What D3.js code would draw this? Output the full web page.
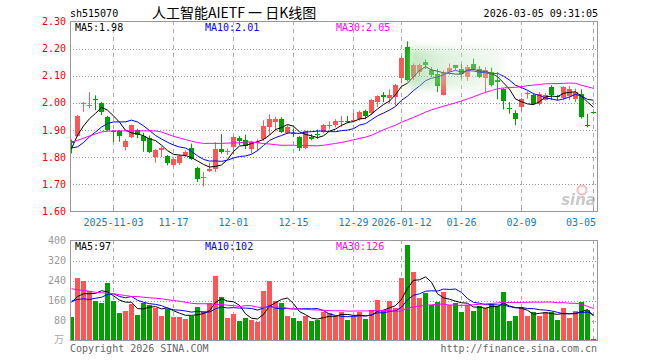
<!DOCTYPE html>
<html><head><meta charset="utf-8">
<script src="https://cdn.jsdelivr.net/npm/d3@7/dist/d3.min.js"></script>
<style>body{margin:0;background:#fff}svg{display:block}</style>
</head><body>
<svg id="c" width="660" height="360"></svg>
<script>
// ---------- DATA ----------
const dates = [
 "2025-10-23","2025-10-24","2025-10-27","2025-10-28","2025-10-29","2025-10-30","2025-10-31",
 "2025-11-03","2025-11-04","2025-11-05","2025-11-06","2025-11-07","2025-11-10","2025-11-11","2025-11-12","2025-11-13","2025-11-14",
 "2025-11-17","2025-11-18","2025-11-19","2025-11-20","2025-11-21","2025-11-24","2025-11-25","2025-11-26","2025-11-27","2025-11-28",
 "2025-12-01","2025-12-02","2025-12-03","2025-12-04","2025-12-05","2025-12-08","2025-12-09","2025-12-10","2025-12-11","2025-12-12",
 "2025-12-15","2025-12-16","2025-12-17","2025-12-18","2025-12-19","2025-12-22","2025-12-23","2025-12-24","2025-12-25","2025-12-26",
 "2025-12-29","2025-12-30","2025-12-31",
 "2026-01-05","2026-01-06","2026-01-07","2026-01-08","2026-01-09","2026-01-12","2026-01-13","2026-01-14","2026-01-15","2026-01-16",
 "2026-01-19","2026-01-20","2026-01-21","2026-01-22","2026-01-23","2026-01-26","2026-01-27","2026-01-28","2026-01-29","2026-01-30",
 "2026-02-02","2026-02-03","2026-02-04","2026-02-05","2026-02-06","2026-02-09","2026-02-10","2026-02-11","2026-02-12","2026-02-13",
 "2026-02-24","2026-02-25","2026-02-26","2026-02-27","2026-03-02","2026-03-03","2026-03-04","2026-03-05"];

const openP = [1.86,1.88,1.995,1.99,2.013,2.00,1.947,1.897,1.896,1.835,
 1.874,1.90,1.88,1.87,1.80,1.826,1.805,1.772,1.782,1.808,
 1.835,1.762,1.725,1.752,1.758,1.83,1.818,1.838,1.87,1.862,
 1.83,1.852,1.866,1.912,1.932,1.942,1.891,1.888,1.876,1.834,
 1.874,1.884,1.891,1.915,1.922,1.93,1.934,1.932,1.942,1.969,
 1.961,2.003,2.028,2.018,2.02,2.09,2.205,2.095,2.115,2.15,
 2.123,2.105,2.03,2.115,2.138,2.125,2.095,2.144,2.126,2.092,
 2.114,2.083,2.053,1.983,1.963,1.985,2.032,2.03,1.998,2.013,
 2.058,2.027,2.016,2.028,2.016,2.034,1.92,1.965];
const closeP = [1.853,1.952,2.0,1.994,2.008,1.965,1.90,1.894,1.878,1.858,
 1.918,1.882,1.86,1.82,1.826,1.834,1.78,1.793,1.806,1.82,
 1.793,1.72,1.728,1.758,1.832,1.818,1.822,1.875,1.86,1.84,
 1.855,1.857,1.915,1.94,1.942,1.893,1.912,1.884,1.835,1.896,
 1.867,1.879,1.918,1.92,1.935,1.934,1.931,1.937,1.967,1.949,
 2.01,2.025,2.02,2.03,2.065,2.165,2.083,2.14,2.14,2.14,
 2.105,2.06,2.11,2.13,2.127,2.105,2.132,2.126,2.096,2.123,
 2.065,2.075,2.01,1.98,1.942,2.015,2.035,1.997,2.034,2.03,
 2.03,2.025,2.058,2.052,2.04,1.948,1.918,1.963];
const highP = [1.865,1.955,2.003,2.04,2.028,2.003,1.952,1.90,1.90,1.866,
 1.92,1.905,1.89,1.88,1.83,1.84,1.808,1.797,1.81,1.825,
 1.85,1.765,1.745,1.78,1.855,1.885,1.832,1.88,1.878,1.883,
 1.86,1.866,1.936,1.958,1.948,1.947,1.918,1.905,1.878,1.898,
 1.885,1.902,1.922,1.932,1.94,1.952,1.952,1.964,1.972,1.975,
 2.015,2.028,2.04,2.05,2.07,2.172,2.227,2.145,2.145,2.16,
 2.132,2.126,2.12,2.145,2.14,2.144,2.14,2.163,2.135,2.132,
 2.13,2.114,2.055,2.003,1.973,2.018,2.043,2.035,2.04,2.036,
 2.065,2.03,2.062,2.062,2.053,2.05,1.96,1.967];
const lowP = [1.814,1.875,1.967,1.98,1.973,1.955,1.897,1.856,1.857,1.825,
 1.87,1.87,1.82,1.815,1.78,1.80,1.77,1.765,1.772,1.80,
 1.79,1.709,1.692,1.745,1.745,1.813,1.808,1.81,1.845,1.83,
 1.815,1.822,1.86,1.882,1.895,1.89,1.885,1.875,1.823,1.83,
 1.862,1.868,1.888,1.903,1.91,1.912,1.925,1.928,1.935,1.94,
 1.956,1.985,2.003,1.998,1.99,2.072,2.08,2.085,2.10,2.125,
 2.095,2.04,2.028,2.104,2.12,2.09,2.082,2.12,2.092,2.038,
 2.06,2.013,1.976,1.96,1.918,1.97,2.016,1.993,1.99,2.008,
 2.01,2.01,2.01,2.01,2.003,1.942,1.91,1.96];
const volume = [96,252,237,197,160,149,232,157,109,120,
 147,104,152,144,131,100,127,93,96,88,
 100,136,120,149,257,173,89,107,77,89,
 84,73,200,240,160,149,100,89,80,100,
 77,83,116,109,100,113,84,96,113,88,
 124,164,117,160,131,252,384,276,172,189,
 144,153,196,144,149,113,144,120,140,129,
 147,140,193,80,100,131,100,113,100,113,
 113,84,132,89,120,153,123,4];

// moving-average values at the start of the window (history before the first day)
const ma5Head  = [1.832,1.881,1.915,1.942];
const ma10Head = [1.834,1.838,1.854,1.875,1.893,1.911,1.924,1.930,1.930];
const ma30Head = [1.855,1.862,1.870,1.878,1.886,1.893,1.896,1.897,1.897,1.897,1.897,1.897,1.897,1.897,1.897,
 1.893,1.885,1.877,1.871,1.865,1.859,1.854,1.851,1.851,1.851,1.851,1.852,1.853,1.853];
const volMa5Head  = [153,176,187,187];
const volMa10Head = [157,164,167,164,169,173,184,187,176];
const volMa30Head = [207,203,200,197,193,191,189,187,183,180,176,176,173,171,169,167,163,160,157,153,
 149,147,147,147,144,144,141,140,136];

const priceTicks = [2.30,2.20,2.10,2.00,1.90,1.80,1.70,1.60];
const volTicks = [400,320,240,160,80];
const tickDates  = ["2025-11-03","2025-11-17","2025-12-01","2025-12-15","2025-12-29","2026-01-12","2026-01-26","2026-02-09","2026-03-05"];
const tickLabels = ["2025-11-03","11-17","12-01","12-15","12-29","2026-01-12","01-26","02-09","03-05"];
const priceLegend = ["MA5:1.98","MA10:2.01","MA30:2.05"];
const volLegend = ["MA5:97","MA10:102","MA30:126"];

// ---------- DRAW ----------
const svg = d3.select("#c");
const L = 70, R = 598, T1 = 21, B1 = 211, T2 = 240, B2 = 340;
const UP = "#ff5555", DN = "#00a000";
const MONO = "'DejaVu Sans Mono', monospace";
const maColors = ["#000000", "#0000ff", "#ff00ff"];

const x = d3.scaleBand().domain(dates).range([68.5, 596.5]).paddingInner(1/6).paddingOuter(1/12);
const cx = d => x(d) + x.bandwidth() / 2;
const y = d3.scaleLinear().domain([1.60, 2.30]).range([B1 + 0.5, T1 + 0.5]);
const yv = d3.scaleLinear().domain([0, 400]).range([B2 + 0.5, T2 + 0.5]);

function movAvg(vals, n, head) {
  return vals.map((v, i) => i < head.length ? head[i] : d3.mean(vals.slice(i - n + 1, i + 1)));
}
const rows = dates.map((d, i) => ({d, o: openP[i], c: closeP[i], h: highP[i], l: lowP[i], v: volume[i]}));

const defs = svg.append("defs");
defs.append("clipPath").attr("id", "cp1").append("rect").attr("x", L).attr("y", T1).attr("width", R - L).attr("height", B1 - T1);
defs.append("clipPath").attr("id", "cp2").append("rect").attr("x", L).attr("y", T2).attr("width", R - L).attr("height", B2 - T2);
defs.append("filter").attr("id", "blur").attr("x", "-30%").attr("y", "-60%").attr("width", "160%").attr("height", "220%")
  .append("feGaussianBlur").attr("stdDeviation", 4);
const grad = defs.append("linearGradient").attr("id", "glow").attr("x1", "0").attr("x2", "1").attr("y1", "0").attr("y2", "0");
grad.append("stop").attr("offset", "0").attr("stop-color", "#8fd08f").attr("stop-opacity", 0.6);
grad.append("stop").attr("offset", "0.35").attr("stop-color", "#b5dfb5").attr("stop-opacity", 0.45);
grad.append("stop").attr("offset", "1").attr("stop-color", "#d5ecd5").attr("stop-opacity", 0.3);

// header
svg.append("text").attr("x", L).attr("y", 17).attr("font-family", MONO).attr("font-size", 10).attr("fill", "#000").text("sh515070");
svg.append("text").attr("x", 152).attr("y", 18).attr("font-family", "'Noto Sans CJK SC', sans-serif").attr("font-size", 14)
  .attr("fill", "#000").text("人工智能AIETF 一 日K线图");
svg.append("text").attr("x", R).attr("y", 17).attr("text-anchor", "end").attr("font-family", MONO).attr("font-size", 10).attr("fill", "#000").text("2026-03-05 09:31:05");

// grids
function grids(top, bottom, yTicks, yScale) {
  const g = svg.append("g");
  g.selectAll("line.h").data(yTicks).join("line")
    .attr("x1", L).attr("x2", R).attr("y1", d => Math.round(yScale(d)) + 0.5).attr("y2", d => Math.round(yScale(d)) + 0.5)
    .attr("stroke", "#999").attr("stroke-dasharray", "1,2");
  g.selectAll("line.v").data(tickDates).join("line")
    .attr("x1", d => Math.floor(cx(d)) + 0.5).attr("x2", d => Math.floor(cx(d)) + 0.5)
    .attr("y1", top).attr("y2", bottom)
    .attr("stroke", "#aaa").attr("stroke-dasharray", "4,4");
}
grids(T1, B1, priceTicks.slice(1, -1), y);
grids(T2, B2, volTicks.slice(1), yv);

// price axis labels
svg.append("g").selectAll("text").data(priceTicks).join("text")
  .attr("x", 66).attr("y", d => y(d)).attr("dy", "0.35em").attr("text-anchor", "end")
  .attr("font-family", MONO).attr("font-size", 10).attr("fill", "#ee0000").text(d => d.toFixed(2));
// volume axis labels
svg.append("g").selectAll("text").data(volTicks).join("text")
  .attr("x", 66).attr("y", d => yv(d)).attr("dy", "0.35em").attr("text-anchor", "end")
  .attr("font-family", MONO).attr("font-size", 10).attr("fill", "#999").text(d => d);
svg.append("text").attr("x", 64).attr("y", 343).attr("text-anchor", "end").attr("font-family", "'Noto Sans CJK SC', sans-serif")
  .attr("font-size", 10).attr("fill", "#aaa").text("万");

// date labels
svg.append("g").selectAll("text").data(tickDates).join("text")
  .attr("x", (d, i) => i === tickDates.length - 1 ? 596 : cx(d))
  .attr("y", 226).attr("text-anchor", (d, i) => i === tickDates.length - 1 ? "end" : "middle")
  .attr("font-family", MONO).attr("font-size", 10).attr("fill", "#0a7fd0").text((d, i) => tickLabels[i]);

// candles
const gc = svg.append("g").attr("clip-path", "url(#cp1)");
gc.selectAll("line").data(rows).join("line")
  .attr("x1", r => Math.floor(cx(r.d)) + 0.5).attr("x2", r => Math.floor(cx(r.d)) + 0.5)
  .attr("y1", r => y(r.h)).attr("y2", r => y(r.l))
  .attr("stroke", r => r.c >= r.o ? UP : DN);
gc.selectAll("rect").data(rows).join("rect")
  .attr("x", r => x(r.d)).attr("width", x.bandwidth())
  .attr("y", r => Math.round(y(Math.max(r.o, r.c))))
  .attr("height", r => Math.max(1, Math.round(Math.abs(y(r.o) - y(r.c)))))
  .attr("fill", r => r.c >= r.o ? UP : DN);

// MA lines main
const pm = [movAvg(closeP, 5, ma5Head), movAvg(closeP, 10, ma10Head), movAvg(closeP, 30, ma30Head)];
const lineP = d3.line().x((v, i) => cx(dates[i])).y(v => y(v));
gc.selectAll("path.ma").data(pm).join("path").attr("class", "ma")
  .attr("d", lineP).attr("fill", "none").attr("stroke", (d, i) => maColors[i]).attr("stroke-width", 1);

// translucent highlight glow
gc.append("rect").attr("x", 408).attr("y", 48).attr("width", 94).attr("height", 40)
  .attr("fill", "url(#glow)").attr("filter", "url(#blur)");

// volume bars
const gv = svg.append("g").attr("clip-path", "url(#cp2)");
gv.selectAll("rect").data(rows).join("rect")
  .attr("x", r => x(r.d)).attr("width", x.bandwidth())
  .attr("y", r => Math.round(yv(r.v))).attr("height", r => B2 - Math.round(yv(r.v)))
  .attr("fill", r => r.c >= r.o ? UP : DN);
const vm = [movAvg(volume, 5, volMa5Head), movAvg(volume, 10, volMa10Head), movAvg(volume, 30, volMa30Head)];
const lineV = d3.line().x((v, i) => cx(dates[i])).y(v => yv(v));
gv.selectAll("path.ma").data(vm).join("path").attr("class", "ma")
  .attr("d", lineV).attr("fill", "none").attr("stroke", (d, i) => maColors[i]).attr("stroke-width", 1);

// frames
[[T1, B1], [T2, B2]].forEach(([t, b]) => {
  svg.append("rect").attr("x", L + 0.5).attr("y", t + 0.5).attr("width", R - L - 1).attr("height", b - t)
    .attr("fill", "none").attr("stroke", "#999").attr("stroke-width", 1);
});
// bottom tick marks
svg.append("g").selectAll("line").data(tickDates).join("line")
  .attr("x1", d => Math.floor(cx(d)) + 0.5).attr("x2", d => Math.floor(cx(d)) + 0.5)
  .attr("y1", B1 - 3).attr("y2", B1).attr("stroke", "#999");

// sina watermark
const wm = svg.append("g").attr("opacity", 0.45);
wm.append("circle").attr("cx", 582).attr("cy", 190).attr("r", 4.5).attr("fill", "none").attr("stroke", "#ff6666").attr("stroke-width", 2);
wm.append("text").attr("x", 596).attr("y", 205).attr("text-anchor", "end").attr("font-family", "'DejaVu Sans', sans-serif")
  .attr("font-size", 15).attr("font-weight", "bold").attr("font-style", "italic").attr("fill", "#888").text("sina");

// legends
const lx = [75, 205, 336];
svg.append("g").selectAll("text").data(priceLegend).join("text")
  .attr("x", (d, i) => lx[i]).attr("y", 31).attr("font-family", MONO).attr("font-size", 10)
  .attr("fill", (d, i) => maColors[i]).text(d => d);
svg.append("g").selectAll("text").data(volLegend).join("text")
  .attr("x", (d, i) => lx[i]).attr("y", 250).attr("font-family", MONO).attr("font-size", 10)
  .attr("fill", (d, i) => maColors[i]).text(d => d);

// footer
svg.append("text").attr("x", L).attr("y", 352).attr("font-family", MONO).attr("font-size", 10).attr("fill", "#666").text("Copyright 2026 SINA.COM");
svg.append("text").attr("x", 597).attr("y", 352).attr("text-anchor", "end").attr("font-family", MONO).attr("font-size", 10).attr("fill", "#666").text("http://finance.sina.com.cn");
</script>
</body></html>
